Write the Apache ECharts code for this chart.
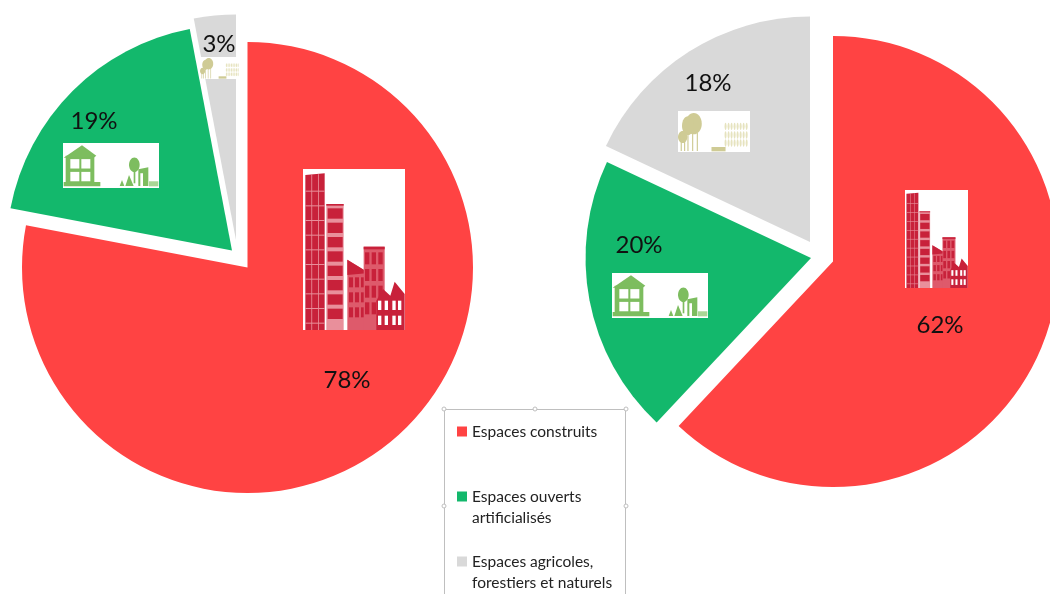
<!DOCTYPE html>
<html lang="fr">
<head>
<meta charset="utf-8">
<title>Occupation des espaces</title>
<style>html,body{margin:0;padding:0;background:#fff}#chart{width:1050px;height:594px}</style>
<script src="https://cdn.jsdelivr.net/npm/echarts@6/dist/echarts.min.js"></script>
</head>
<body>
<div id="chart"></div>
<script>
const categories = ['Espaces construits', 'Espaces ouverts\nartificialisés', 'Espaces agricoles,\nforestiers et naturels'];
const colors = ['#ff4343', '#13b86c', '#d9d9d9'];
const leftValues = [78, 19, 3];
const rightValues = [62, 20, 18];

// Each slice is pulled away from its pie by hand, so each has its own centre.
const leftCenters = [[247.5, 267.5], [232, 250.5], [236, 240]];
const rightCenters = [[833, 261.5], [811, 258], [810, 242]];
const leftLabels = [[347, 380.5], [94, 121.5], [219, 44.5]];
const rightLabels = [[940, 325.5], [639, 245.5], [708, 83.5]];
const RADIUS = 225.5;
const FONT = 'Lato, "Open Sans", sans-serif';

// One pie series per slice: the other slices stay in the data so the library
// computes the angles, but they are not painted.
function sliceSeries(values, centers, labels) {
  return values.map((_, shown) => ({
    type: 'pie',
    center: centers[shown],
    radius: [0, RADIUS],
    startAngle: 90,
    clockwise: true,
    silent: true,
    animation: false,
    avoidLabelOverlap: false,
    labelLine: { show: false },
    labelLayout: { x: labels[shown][0], y: labels[shown][1], align: 'center', verticalAlign: 'middle' },
    data: values.map((v, i) => ({
      name: categories[i],
      value: v,
      itemStyle: i === shown ? { color: colors[i] } : { opacity: 0 },
      label: i === shown
        ? { show: true, position: 'inside', formatter: '{c}%', color: '#111', fontFamily: FONT, fontSize: 24 }
        : { show: false }
    }))
  }));
}

// Small pictograms, drawn in their own unit space and scaled into place.
function r(x, y, w, h, fill) { return { type: 'rect', shape: { x, y, width: w, height: h }, style: { fill } }; }
function p(points, fill) { return { type: 'polygon', shape: { points }, style: { fill } }; }
function e(cx, cy, rx, ry, fill) { return { type: 'ellipse', shape: { cx, cy, rx, ry }, style: { fill } }; }

function cityIcon() {
  const dark = '#c8213a', light = '#e98f9b', mid = '#de5a6b', out = [];
  out.push(r(0, 0, 306, 483, '#fff'));
  // Tall tower with a glazed grid
  out.push(p([[7, 18], [65, 13], [65, 483], [7, 483]], dark));
  for (const x of [25, 45]) out.push(r(x, 16, 2.5, 467, light));
  for (let y = 65; y < 480; y += 44) out.push(r(7, y, 58, 3, light));
  // Banded block
  out.push(r(70, 105, 52, 378, light));
  out.push(r(70, 105, 52, 5, dark));
  for (let y = 118; y < 450; y += 43) out.push(r(74, y, 45, 31, dark));
  // Gabled block
  out.push(p([[133, 272], [198, 312], [198, 483], [133, 483]], mid));
  out.push(p([[133, 272], [198, 312], [133, 318]], dark));
  for (let y = 325; y < 450; y += 45) for (let x = 138; x < 190; x += 18) out.push(r(x, y, 12, 30, dark));
  // Narrow block behind the houses
  out.push(r(182, 233, 63, 250, mid));
  out.push(r(182, 233, 63, 8, dark));
  for (let y = 250; y < 450; y += 50) for (let x = 186; x < 240; x += 20) out.push(r(x, y, 13, 36, dark));
  // Row of houses
  out.push(p([[220, 395], [240, 360], [262, 380], [275, 338], [305, 375], [305, 483], [220, 483]], dark));
  for (const y of [395, 440]) for (const x of [225, 245, 268, 285]) out.push(r(x, y, 10, 28, '#fff'));
  return out;
}

function houseIcon() {
  const g = '#7dbd5f', out = [];
  out.push(r(0, 0, 288, 134, '#fff'));
  out.push(r(8, 38, 86, 80, g));
  out.push(p([[2, 44], [57, 7], [100, 38], [92, 44]], g));
  for (const y of [48, 86]) for (const x of [22, 55]) out.push(r(x, y, 27, 28, '#fff'));
  out.push(r(2, 116, 110, 13, g));
  out.push(e(214, 65, 16, 22, g));
  out.push(r(212, 84, 5, 36, g));
  out.push(p([[170, 128], [177, 110], [184, 128]], g));
  out.push(p([[187, 128], [198, 95], [212, 128]], g));
  out.push(p([[226, 128], [226, 78], [256, 72], [256, 128]], g));
  out.push(r(232, 90, 8, 38, '#fff'));
  out.push(r(258, 114, 28, 15, '#a9d695'));
  return out;
}

function fieldIcon() {
  const g = '#cfcb95', pale = '#e6e3bf', out = [];
  out.push(r(0, 0, 215, 123, '#fff'));
  out.push(e(47, 38, 24, 32, g));
  out.push(e(30, 44, 18, 28, g));
  out.push(e(14, 78, 14, 18, g));
  for (const x of [8, 18, 28, 42, 56]) out.push(r(x, 66, 3.5, 54, g));
  out.push(r(100, 108, 42, 13, g));
  for (const y of [46, 72, 96]) for (let x = 142; x < 212; x += 9) out.push(e(x, y, 3, 11, pale));
  return out;
}

function icon(children, x, y, sx, sy) {
  return { type: 'group', x, y, scaleX: sx, scaleY: sy, z: 10, silent: true,
           children: children.map(c => Object.assign({ z: 10, silent: true }, c)) };
}

// Selection frame around the legend
const frame = { type: 'rect', z: 1, silent: true, shape: { x: 444.5, y: 409.5, width: 181, height: 240 },
                style: { fill: '#fff', stroke: '#bfbfbf', lineWidth: 1 } };
const handles = [[444, 409], [535, 409], [626, 409], [444, 506], [626, 506]].map(([cx, cy]) => ({
  type: 'circle', z: 2, silent: true, shape: { cx, cy, r: 2 }, style: { fill: '#fff', stroke: '#bfbfbf', lineWidth: 1 }
}));

// One legend block per entry because the entries are unevenly spaced.
const legendTops = [421, 465, 530];
const legends = categories.map((name, i) => ({
  left: 457,
  top: legendTops[i],
  padding: 0,
  orient: 'vertical',
  selectedMode: false,
  itemWidth: 10,
  itemHeight: 10,
  itemGap: 0,
  icon: 'rect',
  // A blank first line keeps the marker level with the first line of a two-line name.
  formatter: n => n.includes('\n') ? '\n' + n : n,
  textStyle: { fontFamily: FONT, fontSize: 15.5, lineHeight: 21, color: '#222' },
  data: [{ name, itemStyle: { color: colors[i], opacity: 1 } }]
}));

const chart = echarts.init(document.getElementById('chart'), null, { renderer: 'canvas' });
chart.setOption({
  animation: false,
  backgroundColor: '#fff',
  tooltip: { show: false },
  legend: legends,
  series: [...sliceSeries(leftValues, leftCenters, leftLabels), ...sliceSeries(rightValues, rightCenters, rightLabels)],
  graphic: { elements: [
    frame, ...handles,
    icon(cityIcon(), 303, 169, 102 / 306, 161 / 483),
    icon(houseIcon(), 63, 143, 96 / 288, 45 / 134),
    icon(fieldIcon(), 200, 57, 40 / 215, 22 / 123),
    icon(cityIcon(), 905, 190, 63 / 306, 98 / 483),
    icon(houseIcon(), 612, 273, 96 / 288, 45 / 134),
    icon(fieldIcon(), 678, 111, 72 / 215, 41 / 123)
  ] }
});
</script>
</body>
</html>
